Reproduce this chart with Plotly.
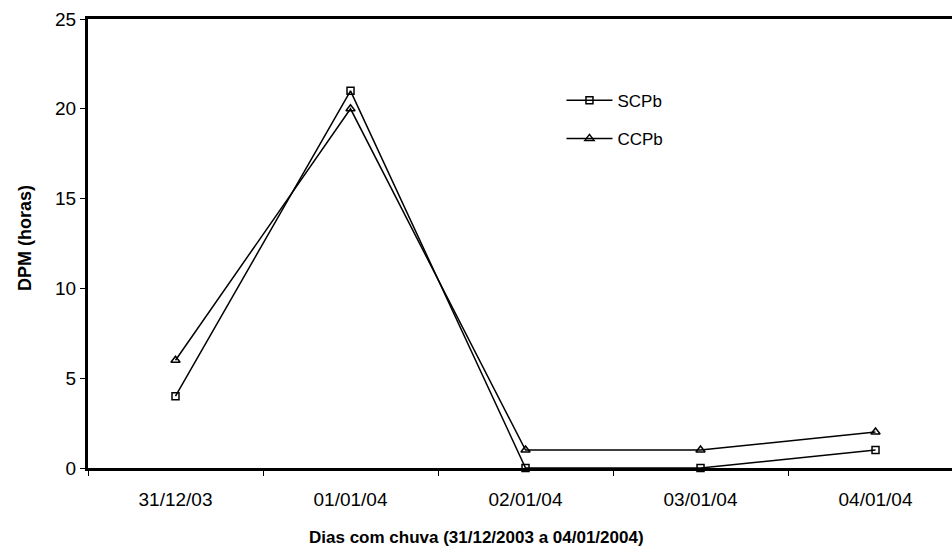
import plotly.graph_objects as go

categories = ["31/12/03", "01/01/04", "02/01/04", "03/01/04", "04/01/04"]
scpb = [4, 21, 0, 0, 1]
ccpb = [6, 20, 1, 1, 2]
y_ticks = [0, 5, 10, 15, 20, 25]

FONT = "Liberation Sans, Arial, sans-serif"

fig = go.Figure()
fig.add_trace(go.Scatter(
    x=categories, y=scpb, name="SCPb", mode="lines+markers",
    line=dict(color="black", width=1.5),
    marker=dict(symbol="square-open", size=7, color="black", line=dict(width=1.5)),
    legendgroup="a", cliponaxis=False))
fig.add_trace(go.Scatter(
    x=categories, y=ccpb, name="CCPb", mode="lines+markers",
    line=dict(color="black", width=1.5),
    marker=dict(symbol="triangle-up-open", size=8, color="black", line=dict(width=1.5)),
    legendgroup="b", cliponaxis=False))

fig.update_layout(
    width=952, height=550,
    margin=dict(l=88, r=0, t=19, b=82),
    paper_bgcolor="white", plot_bgcolor="white",
    font=dict(family=FONT, size=19, color="black"),
    showlegend=True,
    legend=dict(x=0.548, y=0.858, xanchor="left", yanchor="top",
                bgcolor="rgba(0,0,0,0)", font=dict(size=17),
                itemwidth=46, tracegroupgap=13, itemclick=False),
    xaxis=dict(
        type="category", categoryorder="array", categoryarray=categories,
        range=[-0.5, 4.437], showgrid=False, zeroline=False,
        showline=True, linecolor="black", linewidth=3, mirror=True,
        ticks="outside", ticklen=5, tickcolor="black", tickwidth=1,
        tickson="boundaries", tickfont=dict(size=19), ticklabelstandoff=12,
    ),
    yaxis=dict(
        range=[0, 25], tickvals=y_ticks, showgrid=False, zeroline=False,
        showline=True, linecolor="black", linewidth=3,
        ticks="outside", ticklen=5, tickcolor="black", tickwidth=1,
        tickfont=dict(size=19),
    ),
    annotations=[
        dict(text="<b>Dias com chuva (31/12/2003 a 04/01/2004)</b>", xref="paper", yref="paper",
             x=(476 - 88) / 864, y=-(537 - 468) / 449, xanchor="center", yanchor="middle",
             showarrow=False, font=dict(size=17)),
        dict(text="<b>DPM (horas)</b>", xref="paper", yref="paper",
             x=-(88 - 25) / 864, y=(468 - 238) / 449, xanchor="center", yanchor="middle",
             textangle=-90, showarrow=False, font=dict(size=18)),
    ],
)

fig.write_html("out.html")
